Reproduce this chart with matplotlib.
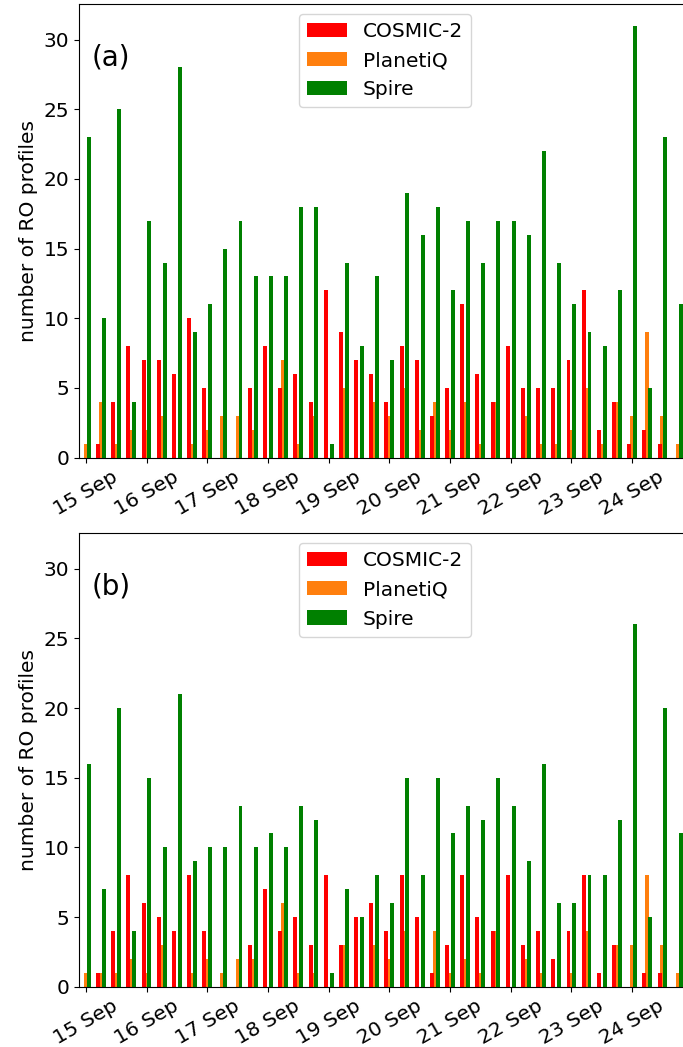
import numpy as np
import matplotlib
matplotlib.use("Agg")
import matplotlib.pyplot as plt

# 6-hourly counts, 15 Sep 00h .. 24 Sep 18h (4 slots per day)
day_labels = ["15 Sep", "16 Sep", "17 Sep", "18 Sep", "19 Sep",
              "20 Sep", "21 Sep", "22 Sep", "23 Sep", "24 Sep"]
series_names = ["COSMIC-2", "PlanetiQ", "Spire"]

cosmic_a = [0, 1, 4, 8, 7, 7, 6, 10, 5, 0, 0, 5, 8, 5, 6, 4, 12, 9, 7, 6,
            4, 8, 7, 3, 5, 11, 6, 4, 8, 5, 5, 5, 7, 12, 2, 4, 1, 2, 1, 0]
planetiq_a = [1, 4, 1, 2, 2, 3, 0, 1, 2, 3, 3, 2, 0, 7, 1, 3, 0, 5, 0, 4,
              3, 5, 2, 4, 2, 4, 1, 4, 0, 3, 1, 1, 2, 5, 1, 4, 3, 9, 3, 1]
spire_a = [23, 10, 25, 4, 17, 14, 28, 9, 11, 15, 17, 13, 13, 13, 18, 18, 1, 14, 8, 13,
           7, 19, 16, 18, 12, 17, 14, 17, 17, 16, 22, 14, 11, 9, 8, 12, 31, 5, 23, 11]

cosmic_b = [0, 1, 4, 8, 6, 5, 4, 8, 4, 0, 0, 3, 7, 4, 5, 3, 8, 3, 5, 6,
            4, 8, 5, 1, 3, 8, 5, 4, 8, 3, 4, 2, 4, 8, 1, 3, 0, 1, 1, 0]
planetiq_b = [1, 1, 1, 2, 1, 3, 0, 1, 2, 1, 2, 2, 0, 6, 1, 1, 0, 3, 0, 3,
              2, 4, 0, 4, 1, 2, 1, 4, 0, 2, 1, 0, 1, 4, 0, 3, 3, 8, 3, 1]
spire_b = [16, 7, 20, 4, 15, 10, 21, 9, 10, 10, 13, 10, 11, 10, 13, 12, 1, 7, 5, 8,
           6, 15, 8, 15, 11, 13, 12, 15, 13, 9, 16, 6, 6, 8, 8, 12, 26, 5, 20, 11]

plt.rcParams["font.size"] = 14

t = np.arange(len(cosmic_a)) * 0.25   # time in days from 15 Sep 00h
w = 0.065
dx = 0.048
colors = ["#ff0000", "#ff7f0e", "#008000"]

fig = plt.figure(figsize=(6.83, 10.47), dpi=100)
ax1 = fig.add_axes([0.1157, 0.5629, 0.896, 0.4333])
ax2 = fig.add_axes([0.1157, 0.0576, 0.896, 0.4331])

panels = [(ax1, "(a)", [cosmic_a, planetiq_a, spire_a]),
          (ax2, "(b)", [cosmic_b, planetiq_b, spire_b])]

for ax, tag, data in panels:
    ax.bar(t, data[1], w, color=colors[1], label=series_names[1], zorder=1)
    ax.bar(t - dx, data[0], w, color=colors[0], label=series_names[0], zorder=2)
    ax.bar(t + dx, data[2], w, color=colors[2], label=series_names[2], zorder=3)
    ax.set_xlim(-0.112, 9.97)
    ax.set_ylim(0, 32.55)
    ax.set_xticks(np.arange(len(day_labels)))
    ax.set_xticklabels(day_labels, rotation=30)
    ax.tick_params(labelsize=14.5)
    ax.set_ylabel("number of RO profiles", fontsize=14.5)
    ax.text(0.021, 0.882, tag, transform=ax.transAxes, fontsize=20, va="center")
    h, l = ax.get_legend_handles_labels()
    order = [1, 0, 2]
    ax.legend([h[i] for i in order], [l[i] for i in order], loc="upper center",
              fontsize=14.5)

fig.savefig("out.png", dpi=100)
